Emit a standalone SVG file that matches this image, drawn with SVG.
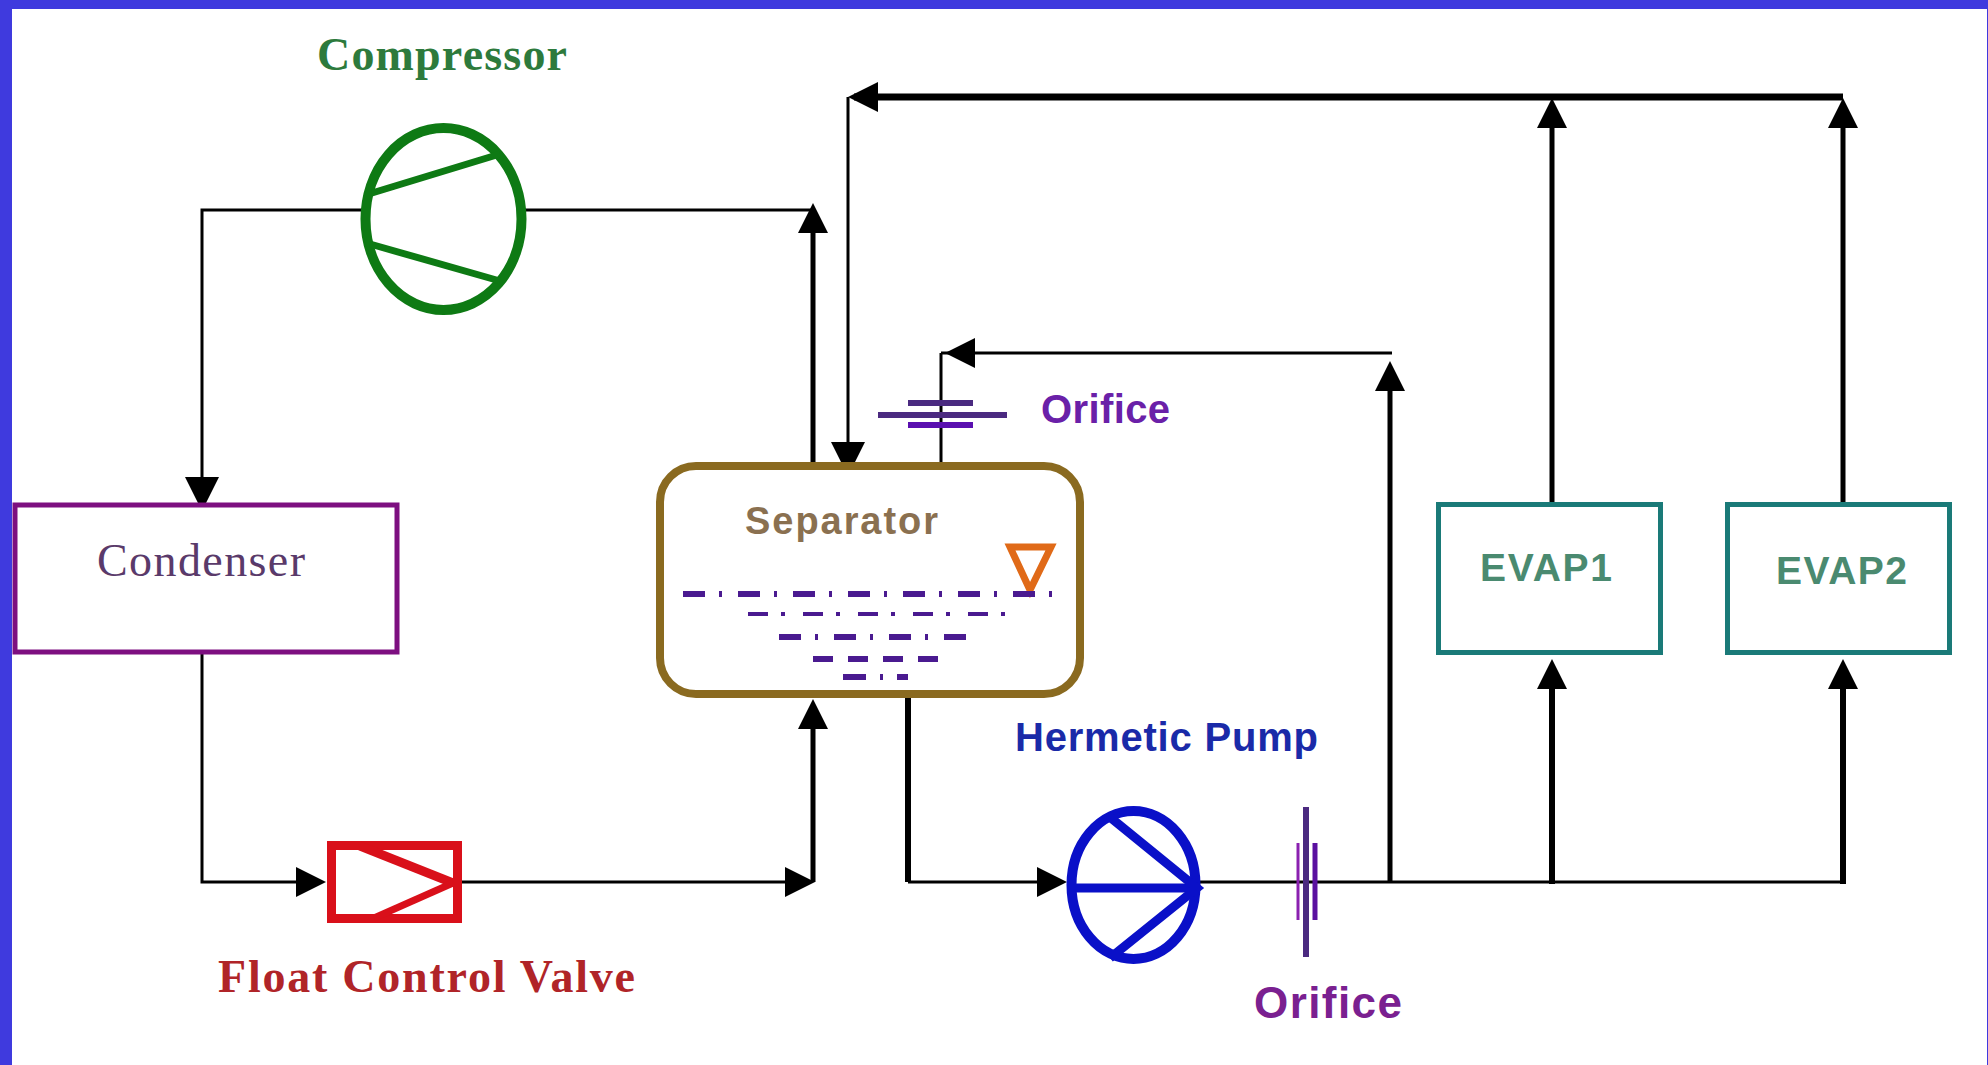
<svg xmlns="http://www.w3.org/2000/svg" width="1988" height="1065" viewBox="0 0 1988 1065">
<style>
.w{fill:none;stroke:#000;stroke-linejoin:miter}
.t3{stroke-width:3}.t5{stroke-width:5}.t6{stroke-width:6}.t7{stroke-width:7}
.a{marker-end:url(#arrow)}.al{marker-end:url(#arrowL)}
.shape{fill:#fff}
.serif{font-family:"Liberation Serif","Times New Roman",serif}
.sans{font-family:"Liberation Sans",Arial,sans-serif;font-weight:bold}
.b{font-weight:bold}
.liq{fill:none;stroke:#4a1a90}
</style>
<defs>
<marker id="arrow" markerUnits="userSpaceOnUse" markerWidth="30" markerHeight="30" viewBox="0 0 30 30" refX="24" refY="15" orient="auto"><path d="M0 0L30 15L0 30Z" fill="#000"/></marker>
<marker id="arrowL" markerUnits="userSpaceOnUse" markerWidth="34" markerHeight="34" viewBox="0 0 34 34" refX="28" refY="17" orient="auto"><path d="M0 0L34 17L0 34Z" fill="#000"/></marker>
</defs>
<rect id="background" width="1988" height="1065" fill="#3f3ade"/>
<rect id="panel" x="12" y="9" width="1975" height="1056" fill="#fff"/>
<g id="connectors">
<path class="w t3 al" d="M362 210H202V505"/>
<path class="w t3 a" d="M202 654V882H320"/>
<path class="w t3 a" d="M462 882H809"/>
<path class="w t5 a" d="M813 882V705"/>
<path class="w t6" d="M908 696V882"/>
<path class="w t3 a" d="M908 882H1061"/>
<path class="w t3" d="M1200 882H1843"/>
<path class="w t5 a" d="M1390 882V367"/>
<path class="w t3 a" d="M1392 353H951"/>
<path class="w t3" d="M941 353H960M941 353V464"/>
<path class="w t6 a" d="M1552 884V665"/>
<path class="w t6 a" d="M1843 884V665"/>
<path class="w t5 a" d="M1552 504V104"/>
<path class="w t5 a" d="M1843 504V104"/>
<path class="w t7 a" d="M1843 97H854"/>
<path class="w t3 al" d="M848 97V470"/>
<path class="w t3" d="M525 210H813"/>
<path class="w t5 a" d="M813 464V209"/>
</g>
<g id="compressor">
<ellipse class="shape" cx="443.500" cy="219" rx="78" ry="91" stroke="#0e7a14" stroke-width="10"/>
<path d="M372 193L500 154M370 244L500 281" fill="none" stroke="#0e7a14" stroke-width="7"/>
<text class="serif b" x="317" y="70" font-size="46" fill="#2d7a3c" textLength="250">Compressor</text>
</g>
<g id="condenser">
<rect class="shape" x="15" y="505" width="382" height="147" stroke="#7d0f80" stroke-width="5"/>
<text class="serif" x="97" y="576" font-size="46" fill="#5a3a6a" textLength="208">Condenser</text>
</g>
<g id="float-control-valve">
<rect class="shape" x="331.500" y="845.500" width="126" height="73" stroke="#d9101a" stroke-width="9"/>
<path d="M360 846L453 883" fill="none" stroke="#d9101a" stroke-width="9"/>
<path d="M374 918L453 883" fill="none" stroke="#d9101a" stroke-width="7"/>
<text class="serif b" x="218" y="992" font-size="46" fill="#b02428" textLength="417">Float Control Valve</text>
</g>
<g id="separator">
<rect class="shape" x="660" y="466" width="420" height="228" rx="36" ry="36" stroke="#8a6a20" stroke-width="8"/>
<text class="sans" x="745" y="534" font-size="38" fill="#8a7050" textLength="193">Separator</text>
<path d="M1010 547H1051L1030 590Z" fill="none" stroke="#e06a18" stroke-width="7"/>
<path class="liq" stroke-width="6" stroke-dasharray="22 14 3 16" d="M683 594H1054"/>
<path class="liq" stroke-width="4" stroke-dasharray="20 13 4 18" d="M748 614H1007"/>
<path class="liq" stroke-width="6" stroke-dasharray="22 14 3 16" d="M779 637H968"/>
<path class="liq" stroke-width="6" stroke-dasharray="20 15" d="M813 659H940"/>
<path class="liq" stroke-width="6" stroke-dasharray="23 14 3 14" d="M843 677H908"/>
</g>
<g id="orifice-upper">
<path d="M908 403H973" stroke="#4a2a80" stroke-width="6"/>
<path d="M878 415H1007" stroke="#4b2a80" stroke-width="6"/>
<path d="M908 425H973" stroke="#5a10b0" stroke-width="6"/>
<text class="sans" x="1041" y="423" font-size="40" fill="#6a20a8" textLength="129">Orifice</text>
</g>
<g id="hermetic-pump">
<ellipse class="shape" cx="1133.500" cy="885" rx="62" ry="74" stroke="#0a10c8" stroke-width="10"/>
<path d="M1067 888H1200" fill="none" stroke="#0a10c8" stroke-width="9"/>
<path d="M1111 818L1197 888L1110 958" fill="none" stroke="#0a10c8" stroke-width="9"/>
<text class="sans" x="1015" y="751" font-size="40" fill="#1a2aa8" textLength="303">Hermetic Pump</text>
</g>
<g id="orifice-lower">
<path d="M1306 807V957" stroke="#4b2a80" stroke-width="6"/>
<path d="M1298 843V920" stroke="#8a20b0" stroke-width="3"/>
<path d="M1315 843V920" stroke="#5a10a0" stroke-width="5"/>
<text class="sans" x="1254" y="1018" font-size="44" fill="#7a2090" textLength="148">Orifice</text>
</g>
<g id="evap1">
<rect class="shape" x="1438.500" y="504.500" width="222" height="148" stroke="#1a7a78" stroke-width="5"/>
<text class="sans" x="1480" y="581" font-size="39" fill="#4a8a70" textLength="132">EVAP1</text>
</g>
<g id="evap2">
<rect class="shape" x="1727.500" y="504.500" width="222" height="148" stroke="#1a7a78" stroke-width="5"/>
<text class="sans" x="1776" y="584" font-size="39" fill="#4a8a70" textLength="131">EVAP2</text>
</g>
</svg>
